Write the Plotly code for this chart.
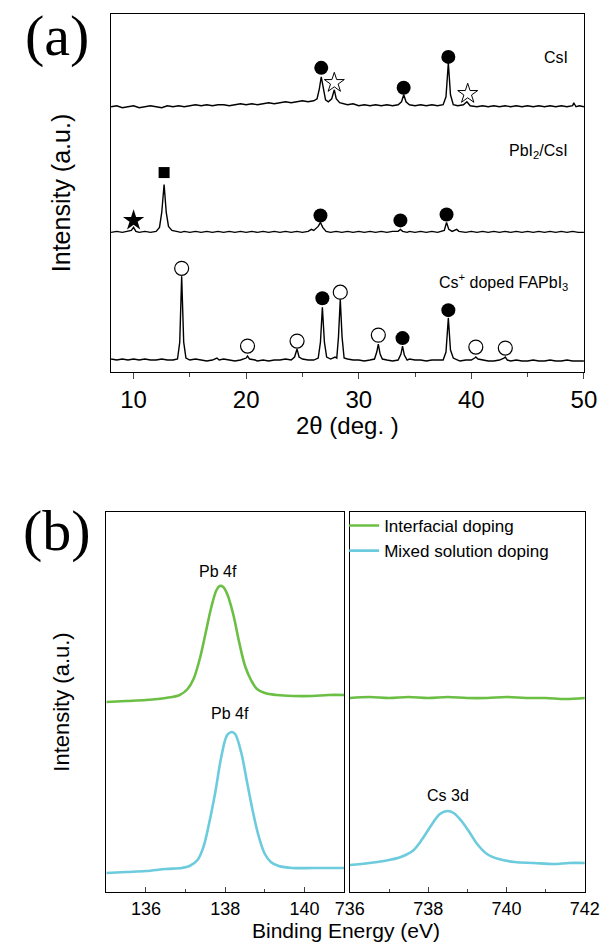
import plotly.graph_objects as go

# ---------------- (a) XRD data (intensity in arbitrary units, offset stacked) ----------------
csi_x = [8.0, 8.5, 9.0, 9.5, 10.0, 10.5, 11.0, 11.5, 12.0, 12.5, 13.0, 13.5, 14.0, 14.5, 15.0, 15.5,
         16.0, 16.5, 17.0, 17.5, 18.0, 18.5, 19.0, 19.5, 20.0, 20.5, 21.0, 21.5, 22.0, 22.5, 23.0,
         23.5, 24.0, 24.5, 25.0, 25.5, 26.0, 26.3, 26.5, 26.67, 26.85, 27.05, 27.3, 27.6, 27.83,
         28.0, 28.3, 28.6, 29.0, 29.5, 30.0, 30.5, 31.0, 31.5, 32.0, 32.5, 33.0, 33.5, 33.8, 34.0,
         34.2, 34.5, 35.0, 35.5, 36.0, 36.5, 37.0, 37.5, 37.75, 37.96, 38.15, 38.4, 38.8, 39.3,
         39.61, 39.9, 40.5, 41.0, 41.5, 42.0, 42.5, 43.0, 43.5, 44.0, 44.5, 45.0, 45.5, 46.0, 46.5,
         47.0, 47.5, 48.0, 48.5, 49.0, 49.1, 49.3, 49.6, 50.0]
csi_y = [266, 267, 265, 266, 267, 265, 266, 267, 266, 265, 267, 266, 267, 266, 267, 268,
         267, 268, 267, 268, 268, 267, 268, 269, 268, 269, 268, 269, 270, 269, 270,
         271, 270, 271, 272, 271, 272, 274, 284, 296, 283, 273, 271, 274, 283,
         274, 270, 269, 268, 269, 267, 268, 267, 268, 267, 268, 267, 268, 271, 278,
         271, 268, 267, 268, 267, 268, 267, 268, 276, 310, 278, 268, 267, 268,
         271, 267, 266, 267, 266, 267, 266, 267, 266, 267, 266, 267, 266, 267, 266,
         267, 266, 267, 266, 267, 270, 266, 267, 266]

pbi2_x = [8.0, 8.5, 9.0, 9.5, 9.8, 10.0, 10.2, 10.5, 11.0, 11.5, 12.0, 12.3, 12.5, 12.71, 12.9,
          13.1, 13.4, 13.8, 14.2, 14.5, 15.0, 15.5, 16.0, 16.5, 17.0, 17.5, 18.0, 18.5, 19.0,
          19.5, 20.0, 20.5, 21.0, 21.5, 22.0, 22.5, 23.0, 23.5, 24.0, 24.5, 25.0, 25.5, 25.8,
          26.0, 26.4, 26.6, 26.8, 27.1, 27.5, 28.0, 28.5, 29.0, 29.5, 30.0, 30.5, 31.0, 31.5,
          32.0, 32.5, 33.0, 33.5, 33.7, 33.9, 34.3, 34.5, 35.0, 35.5, 36.0, 36.5, 37.0, 37.4,
          37.6, 37.8, 38.0, 38.3, 38.7, 38.9, 39.5, 40.0, 40.5, 41.0, 41.5, 42.0, 42.5, 43.0,
          43.5, 44.0, 44.5, 45.0, 45.5, 46.0, 46.5, 47.0, 47.5, 48.0, 48.5, 49.0, 49.5, 50.0]
pbi2_y = [140, 141, 140, 141, 142, 145, 141, 140, 141, 140, 141, 145, 160, 188, 160,
          146, 142, 141, 140, 141, 140, 141, 140, 141, 140, 141, 140, 141, 140,
          141, 140, 141, 140, 141, 140, 141, 140, 141, 140, 141, 140, 141, 143,
          142, 146, 150, 145, 141, 140, 141, 140, 141, 140, 141, 140, 141, 140,
          141, 140, 141, 141, 143, 141, 140, 141, 140, 141, 140, 141, 140, 141,
          142, 150, 143, 141, 143, 141, 140, 141, 140, 141, 140, 141, 140, 141,
          140, 141, 140, 141, 140, 141, 140, 141, 140, 141, 140, 141, 140, 140]

fa_x = [8.0, 8.5, 9.0, 9.5, 10.0, 10.5, 11.0, 11.5, 12.0, 12.5, 13.0, 13.5, 13.9, 14.1, 14.27,
        14.45, 14.65, 15.0, 15.5, 16.0, 16.5, 17.0, 17.4, 17.6, 18.0, 18.5, 19.0, 19.5, 20.0,
        20.12, 20.3, 20.8, 21.0, 21.5, 22.0, 22.5, 23.0, 23.5, 24.0, 24.3, 24.52, 24.7, 25.0,
        25.5, 26.0, 26.4, 26.6, 26.77, 26.95, 27.15, 27.5, 27.9, 28.05, 28.2, 28.36, 28.52,
        28.7, 29.0, 29.5, 30.0, 30.5, 31.0, 31.4, 31.6, 31.74, 31.9, 32.1, 32.5, 33.0, 33.5,
        33.75, 33.89, 34.05, 34.3, 34.5, 35.0, 35.5, 36.0, 36.5, 37.0, 37.5, 37.75, 37.96,
        38.15, 38.4, 38.8, 39.0, 39.5, 40.0, 40.3, 40.4, 40.6, 41.0, 41.5, 42.0, 42.5, 42.9,
        43.02, 43.2, 43.5, 44.0, 44.5, 45.0, 45.5, 46.0, 46.5, 47.0, 47.5, 48.0, 48.5, 49.0,
        49.5, 50.0]
fa_y = [13, 12, 13, 12, 13, 12, 13, 12, 12, 13, 12, 12, 13, 30, 96,
        30, 14, 12, 13, 12, 11, 12, 14, 12, 13, 12, 11, 12, 14,
        16, 13, 12, 11, 12, 11, 12, 12, 13, 12, 15, 23, 15, 13,
        12, 12, 14, 30, 65, 30, 15, 13, 15, 14, 35, 73, 35,
        14, 13, 12, 12, 11, 12, 13, 20, 28, 18, 13, 12, 11, 12,
        18, 26, 17, 12, 13, 12, 12, 11, 12, 12, 12, 20, 54,
        22, 14, 12, 11, 12, 12, 14, 15, 13, 12, 11, 11, 12, 14,
        15, 12, 11, 12, 11, 11, 12, 11, 11, 12, 11, 11, 12, 11,
        11, 11]

# phase markers
filled_circle_x = [26.67, 33.99, 37.96, 26.6, 33.7, 37.8, 26.77, 33.89, 37.96]
filled_circle_y = [305, 285, 316, 157, 152, 158, 74, 34, 62]
open_circle_x = [14.27, 20.12, 24.52, 28.36, 31.74, 40.4, 43.02]
open_circle_y = [104, 26, 31, 80, 37, 25, 24]
open_star_x = [27.83, 39.68]
open_star_y = [290, 279]
filled_star_x = [10.0]
filled_star_y = [152]
square_x = [12.71]
square_y = [200]

xrd_tickvals = [10, 20, 30, 40, 50]

# ---------------- (b) XPS data ----------------
pb_x_int = [135.0, 135.5, 136.0, 136.5, 136.85, 137.05, 137.2, 137.35, 137.5, 137.65, 137.78,
            137.86, 137.95, 138.05, 138.2, 138.35, 138.5, 138.65, 138.8, 139.0, 139.3, 139.7,
            140.2, 140.6, 141.0]
pb_y_int = [190, 191, 192, 194, 197, 203, 213, 232, 258, 285, 302,
            306, 305, 298, 278, 250, 226, 212, 203, 199, 197, 196,
            196, 197, 197]
pb_x_mix = [135.0, 135.5, 136.0, 136.5, 136.9, 137.1, 137.3, 137.45, 137.6, 137.75, 137.9,
            138.05, 138.17, 138.25, 138.4, 138.55, 138.7, 138.85, 139.0, 139.15, 139.35, 139.7,
            140.2, 140.6, 141.0]
pb_y_mix = [19, 20, 21, 23, 24, 26, 32, 45, 70, 100, 135,
            157, 160, 158, 140, 110, 80, 55, 38, 30, 26, 24,
            24, 24, 24]
cs_x_int = [736.0, 736.5, 737.0, 737.5, 738.0, 738.5, 739.0, 739.5, 740.0, 740.5, 741.0, 741.5, 742.0]
cs_y_int = [194, 195, 194, 195, 194, 195, 194, 194, 195, 194, 194, 193, 194]
cs_x_mix = [736.0, 736.5, 737.0, 737.3, 737.6, 737.85, 738.1, 738.3, 738.5, 738.65, 738.85, 739.05,
            739.25, 739.5, 739.8, 740.2, 740.7, 741.2, 741.6, 742.0]
cs_y_mix = [27, 29, 32, 35, 41, 53, 68, 78, 81, 79, 71, 60,
            48, 38, 33, 30, 29, 28, 29, 29]

green = "#6cbf45"
cyan = "#6ccbdc"
font_family = "Liberation Sans, Arial, sans-serif"
serif = "Liberation Serif, DejaVu Serif, serif"

fig = go.Figure()

# XRD curves
for xs, ys in [(csi_x, csi_y), (pbi2_x, pbi2_y), (fa_x, fa_y)]:
    fig.add_trace(go.Scatter(x=xs, y=ys, mode="lines", line=dict(color="black", width=1.4),
                             showlegend=False, xaxis="x", yaxis="y", hoverinfo="skip"))

fig.add_trace(go.Scatter(x=filled_circle_x, y=filled_circle_y, mode="markers",
                         marker=dict(symbol="circle", size=14, color="black"),
                         showlegend=False, xaxis="x", yaxis="y"))
fig.add_trace(go.Scatter(x=open_circle_x, y=open_circle_y, mode="markers",
                         marker=dict(symbol="circle", size=14, color="white",
                                     line=dict(color="black", width=1.2)),
                         showlegend=False, xaxis="x", yaxis="y"))
fig.add_trace(go.Scatter(x=open_star_x, y=open_star_y, mode="markers",
                         marker=dict(symbol="star", size=15, color="white",
                                     line=dict(color="black", width=1)),
                         showlegend=False, xaxis="x", yaxis="y"))
fig.add_trace(go.Scatter(x=filled_star_x, y=filled_star_y, mode="markers",
                         marker=dict(symbol="star", size=16, color="black"),
                         showlegend=False, xaxis="x", yaxis="y"))
fig.add_trace(go.Scatter(x=square_x, y=square_y, mode="markers",
                         marker=dict(symbol="square", size=11, color="black"),
                         showlegend=False, xaxis="x", yaxis="y"))

# XPS curves
fig.add_trace(go.Scatter(x=pb_x_int, y=pb_y_int, mode="lines", name="Interfacial doping",
                         line=dict(color=green, width=2.6, shape="spline"),
                         xaxis="x2", yaxis="y2", legendrank=1))
fig.add_trace(go.Scatter(x=pb_x_mix, y=pb_y_mix, mode="lines", name="Mixed solution doping",
                         line=dict(color=cyan, width=2.6, shape="spline"),
                         xaxis="x2", yaxis="y2", legendrank=2))
fig.add_trace(go.Scatter(x=cs_x_int, y=cs_y_int, mode="lines", showlegend=False,
                         line=dict(color=green, width=2.6, shape="spline"),
                         xaxis="x3", yaxis="y3"))
fig.add_trace(go.Scatter(x=cs_x_mix, y=cs_y_mix, mode="lines", showlegend=False,
                         line=dict(color=cyan, width=2.6, shape="spline"),
                         xaxis="x3", yaxis="y3"))

W, H = 616, 945
def px(x):
    return x / W
def py(y):
    return 1 - y / H

box = dict(showline=True, linecolor="black", linewidth=1.3, mirror=True,
           showgrid=False, zeroline=False)

fig.update_layout(
    width=W, height=H,
    margin=dict(l=0, r=0, t=0, b=0),
    paper_bgcolor="white", plot_bgcolor="white",
    font=dict(family=font_family, color="black"),
    xaxis=dict(domain=[px(101), px(598)], range=[8, 50], anchor="y",
               tickvals=xrd_tickvals, ticks="outside", ticklen=6, tickwidth=1.2,
               tickfont=dict(size=24),
               minor=dict(dtick=5, tick0=0, ticks="outside", ticklen=4, tickwidth=1.2), **box),
    yaxis=dict(domain=[py(372), py(14)], range=[0, 359], anchor="x",
               showticklabels=False, ticks="",
               title=dict(text="Intensity (a.u.)", font=dict(size=25), standoff=32), **box),
    xaxis2=dict(domain=[px(96), px(346)], range=[135, 141], anchor="y2",
                tickvals=[136, 138, 140], ticks="inside", ticklen=5, tickwidth=1.2,
                tickfont=dict(size=18),
                minor=dict(dtick=1, tick0=0, ticks="inside", ticklen=3, tickwidth=1.2), **box),
    yaxis2=dict(domain=[py(892), py(512)], range=[0, 380], anchor="x2",
                showticklabels=False, ticks="",
                title=dict(text="Intensity (a.u.)", font=dict(size=22), standoff=29), **box),
    xaxis3=dict(domain=[px(352), px(599)], range=[736, 742], anchor="y3",
                tickvals=[736, 738, 740, 742], ticks="inside", ticklen=5, tickwidth=1.2,
                tickfont=dict(size=18),
                minor=dict(dtick=1, tick0=0, ticks="inside", ticklen=3, tickwidth=1.2), **box),
    yaxis3=dict(domain=[py(892), py(512)], range=[0, 380], anchor="x3",
                showticklabels=False, ticks="", **box),
    legend=dict(x=px(346), y=py(508), xanchor="left", yanchor="top",
                bgcolor="rgba(0,0,0,0)", font=dict(size=17), tracegroupgap=0,
                itemwidth=30),
)

annotations = [
    dict(text="(a)", x=px(44), y=py(36), xref="paper", yref="paper", showarrow=False,
         xanchor="center", yanchor="middle", font=dict(family=serif, size=58)),
    dict(text="(b)", x=px(44), y=py(530), xref="paper", yref="paper", showarrow=False,
         xanchor="center", yanchor="middle", font=dict(family=serif, size=58)),
    dict(text="2θ (deg. )", x=px(349), y=py(410), xref="paper", yref="paper", showarrow=False,
         xanchor="center", yanchor="top", font=dict(size=24)),
    dict(text="CsI", x=48.8, y=315, xref="x", yref="y", xanchor="right", showarrow=False,
         font=dict(size=16)),
    dict(text="PbI<sub>2</sub>/CsI", x=48.8, y=221, xref="x", yref="y", xanchor="right",
         showarrow=False, font=dict(size=16)),
    dict(text="Cs<sup>+</sup> doped FAPbI<sub>3</sub>", x=48.8, y=90, xref="x", yref="y",
         xanchor="right", showarrow=False, font=dict(size=16)),
    dict(text="Pb 4f", x=137.82, y=321, xref="x2", yref="y2", showarrow=False,
         font=dict(size=16)),
    dict(text="Pb 4f", x=138.13, y=179, xref="x2", yref="y2", showarrow=False,
         font=dict(size=16)),
    dict(text="Cs 3d", x=738.5, y=97, xref="x3", yref="y3", showarrow=False,
         font=dict(size=16)),
    dict(text="Binding Energy (eV)", x=px(348), y=py(930), xref="paper", yref="paper",
         showarrow=False, xanchor="center", yanchor="middle", font=dict(size=21)),
]
fig.update_layout(annotations=annotations)

# remove the browser's default 8px page margin so the 616x945 figure fills the window exactly
fig.write_html("out.html", config={"displayModeBar": False},
               post_script="document.body.style.margin='0px';document.body.style.overflow='hidden';")
